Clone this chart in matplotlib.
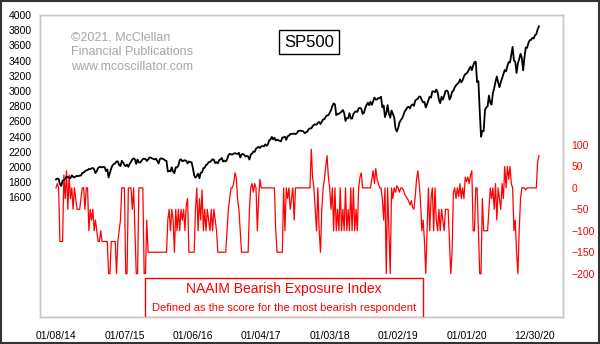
import matplotlib
matplotlib.use('Agg')
import matplotlib.pyplot as plt
from matplotlib.patches import Rectangle
import pandas as pd

plt.rcParams['font.family'] = ['Liberation Sans', 'DejaVu Sans']

# S&P 500, weekly Wednesday closes
sp500_2014 = [1837, 1848, 1844, 1774, 1751, 1819, 1828, 1845, 1873, 1868, 1860, 1852, 1890,
              1872, 1862, 1875, 1884, 1878, 1888, 1888, 1920, 1927, 1943, 1956, 1959, 1974,
              1972, 1981, 1987, 1970, 1920, 1946, 1986, 2000, 2000, 1995, 2001, 1998, 1946,
              1968, 1862, 1927, 1982, 2023, 2038, 2048, 2073, 2074, 2026, 2012, 2082, 2059]
sp500_2015 = [2026, 2011, 2032, 2002, 2041, 2068, 2100, 2114, 2099, 2040, 2099, 2061, 2059,
              2082, 2106, 2107, 2106, 2080, 2098, 2125, 2123, 2114, 2105, 2100, 2108, 2077,
              2046, 2107, 2114, 2108, 2100, 2086, 2079, 1940, 1948, 1942, 1996, 1938, 1920,
              1995, 1994, 2018, 2090, 2102, 2075, 2083, 2089, 2080, 2047, 2073, 2064, 2063]
sp500_2016 = [1990, 1890, 1859, 1882, 1912, 1851, 1926, 1929, 1986, 1989, 2027, 2036, 2064,
              2066, 2082, 2102, 2095, 2051, 2064, 2048, 2090, 2100, 2119, 2071, 2085, 2071,
              2099, 2152, 2173, 2166, 2164, 2175, 2182, 2175, 2171, 2186, 2125, 2164, 2171,
              2160, 2139, 2144, 2139, 2098, 2163, 2177, 2204, 2199, 2241, 2253, 2265, 2250]
sp500_2017 = [2271, 2275, 2271, 2298, 2279, 2295, 2349, 2362, 2396, 2363, 2385, 2348, 2361,
              2352, 2344, 2338, 2387, 2389, 2399, 2357, 2404, 2412, 2433, 2437, 2436, 2440,
              2432, 2443, 2473, 2477, 2478, 2474, 2468, 2444, 2457, 2465, 2498, 2508, 2507,
              2537, 2555, 2561, 2557, 2580, 2594, 2565, 2597, 2626, 2630, 2662, 2679, 2682]
sp500_2018 = [2713, 2748, 2802, 2837, 2824, 2682, 2698, 2701, 2714, 2727, 2749, 2711, 2605,
              2644, 2642, 2708, 2639, 2636, 2697, 2722, 2733, 2724, 2772, 2776, 2767, 2699,
              2713, 2774, 2816, 2846, 2813, 2858, 2818, 2861, 2914, 2888, 2888, 2908, 2906,
              2925, 2785, 2809, 2656, 2711, 2814, 2701, 2649, 2743, 2700, 2651, 2507, 2467]
sp500_2019 = [2510, 2584, 2616, 2639, 2681, 2731, 2753, 2785, 2792, 2772, 2811, 2824, 2805,
              2873, 2888, 2900, 2927, 2924, 2879, 2850, 2856, 2783, 2826, 2879, 2926, 2913,
              2996, 2993, 2984, 3019, 2980, 2884, 2840, 2924, 2887, 2938, 3000, 3006, 2984,
              2887, 2919, 2990, 3004, 3047, 3076, 3094, 3108, 3153, 3113, 3142, 3191, 3223]
sp500_2020 = [3231, 3253, 3289, 3321, 3273, 3334, 3379, 3386, 3116, 3130, 2741, 2398, 2475,
              2470, 2750, 2783, 2799, 2939, 2848, 2820, 2972, 3036, 3123, 3190, 3113, 3050,
              3115, 3170, 3227, 3276, 3258, 3328, 3380, 3375, 3479, 3581, 3399, 3385, 3237,
              3363, 3419, 3489, 3435, 3271, 3443, 3572, 3568, 3630, 3669, 3672, 3701, 3690,
              3733]
sp500_2021 = [3748, 3809, 3851]
sp500 = sp500_2014 + sp500_2015 + sp500_2016 + sp500_2017 + sp500_2018 + sp500_2019 + sp500_2020 + sp500_2021

# NAAIM bearish exposure (most bearish respondent), same weeks
naaim = [0, 10, 0, -125, -125, -125, 30, -25, 40, -50,
         30, -25, 0, -50, 0, -25, -50, -50, -50, -25,
         0, 0, -50, 0, 0, -100, -50, -75, -50, -100,
         -75, -100, -125, -125, -100, -125, -125, -125, -125, -125,
         -200, -200, -125, -125, -125, -125, -200, -125, -100, -75,
         0, 0, 0, -200, -200, 0, 0, 0, -50, 0,
         -100, -200, -200, 0, 0, 0, 0, -200, -200, -75,
         -150, -150, -150, -150, -150, -150, -150, -150, -150, -150,
         -150, -150, -150, -150, -150, -75, -50, -100, -50, -75,
         -150, -50, -100, -50, -100, -50, -75, -50, -100, -40,
         -25, -150, -150, -150, -150, -150, -50, 0, -100, -25,
         -75, -5, -100, -50, -100, -50, -75, -100, -50, -100,
         -50, -75, -100, -150, -150, -150, -150, -150, -150, -150,
         -100, -50, -25, 0, 0, 10, 35, 25, -25, -50,
         -100, -150, -150, -150, -150, -150, -150, -50, 0, 10,
         -10, 10, 0, -100, -25, 20, 0, 0, 0, 0,
         0, 0, 0, 0, 0, 0, 0, -100, -150, -150,
         -150, -150, -150, 0, -100, 0, -25, 0, -50, -25,
         0, -75, 0, 0, 0, 0, 0, 0, 0, 0,
         0, 0, 0, 0, 90, 25, 0, -50, -100, 0,
         -100, -150, -50, 0, 20, 50, 75, 25, 0, -50,
         0, -100, 0, -100, -50, -100, 0, -100, -50, -100,
         0, -100, -50, -100, 0, -100, 0, -100, -50, -100,
         0, 25, 35, 0, 0, 0, 0, 0, 0, 0,
         20, 40, 10, 45, 20, 10, 0, 0, -25, -75,
         0, -200, 0, -100, -200, 0, -25, 0, -10, 5,
         0, -10, 0, 0, -5, -15, -20, -25, -30, -40,
         -30, -45, -50, -20, 20, 40, 10, -30, -100, -75,
         -125, -200, -100, 0, -100, -25, 0, -100, 0, -75,
         -100, -50, -100, -50, -75, -100, -50, -50, -50, -125,
         -200, -150, -10, 0, -25, 0, -20, 10, -25, 0,
         -25, 25, 15, 25, 10, 30, 40, -100, -100, 0,
         0, -100, -200, -200, -25, -100, -100, -100, -100, -50,
         0, -25, 0, -50, 10, -75, 0, -25, -50, 10,
         -25, 50, 0, 50, 20, 50, 10, 0, -100, -75,
         -150, -200, -100, -25, 0, 0, 0, -5, 0, 0,
         0, 0, 0, 0, 0, 0, 60, 75]

date_labels = ['01/08/14', '01/07/15', '01/06/16', '01/04/17',
               '01/03/18', '01/02/19', '01/01/20', '12/30/20']
sp_ticks = list(range(1600, 4001, 200))
naaim_ticks = [100, 50, 0, -50, -100, -150, -200]

dates = pd.date_range('2014-01-08', periods=len(sp500), freq='7D')
tick_dates = pd.to_datetime(date_labels, format='%m/%d/%y')

fig = plt.figure(figsize=(6, 3.44), dpi=100)
ax = fig.add_axes([40/600, 27/344, 523/600, 302/344])
ax2 = ax.twinx()

ax2.plot(dates, naaim, color='#ff0000', lw=0.9)
ax.plot(dates, sp500, color='black', lw=1.3)

# black line and text boxes over the red line
ax.set_zorder(ax2.get_zorder() + 1)
ax.patch.set_visible(False)

ax.set_xlim(pd.Timestamp('2013-10-15'), pd.Timestamp('2021-05-28'))
ax.set_ylim(26, 4000)
ax2.set_ylim(-301, 403)

ax.set_xticks(tick_dates)
ax.set_xticklabels(date_labels)
ax.set_yticks(sp_ticks)
ax2.set_yticks(naaim_ticks)
ax.tick_params(axis='x', length=0, pad=10, labelsize=7.5)
ax.tick_params(axis='y', length=0, pad=6, labelsize=7.5)
ax2.tick_params(axis='y', length=0, pad=6, labelsize=7.5, labelcolor='#ff0000')

for a in (ax, ax2):
    for sp in a.spines.values():
        sp.set_color('#c8c8c8')
        sp.set_linewidth(1)

# copyright watermark
wm = ['\u00a92021, McClellan', 'Financial Publications', 'www.mcoscillator.com']
for txt, yy in zip(wm, [0.924, 0.877, 0.828]):
    ax.text(0.059, yy, txt, transform=ax.transAxes, fontsize=9,
            color='#a6a6a6', va='center', ha='left')

# SP500 label box
ax.add_patch(Rectangle((0.457, 0.871), 0.115, 0.079, transform=ax.transAxes,
                       facecolor='white', edgecolor='black', lw=1, zorder=5))
ax.text(0.5145, 0.910, 'SP500', transform=ax.transAxes, fontsize=12,
        ha='center', va='center', zorder=6)

# indicator caption box
ax.add_patch(Rectangle((0.2008, 0.0), 0.5315, 0.129, transform=ax.transAxes,
                       facecolor='white', edgecolor='#ff0000', lw=1, zorder=5))
ax.text(0.4665, 0.092, 'NAAIM Bearish Exposure Index', transform=ax.transAxes,
        fontsize=10, color='#ff0000', ha='center', va='center', zorder=6)
ax.text(0.4665, 0.030, 'Defined as the score for the most bearish respondent',
        transform=ax.transAxes, fontsize=8, color='#ff0000',
        ha='center', va='center', zorder=6)

# dark outer frame
fig.patches.append(Rectangle((0.001, 0.002), 0.997, 0.995, transform=fig.transFigure,
                             fill=False, edgecolor='#333333', lw=1.5))

fig.savefig('out.png', dpi=100)
